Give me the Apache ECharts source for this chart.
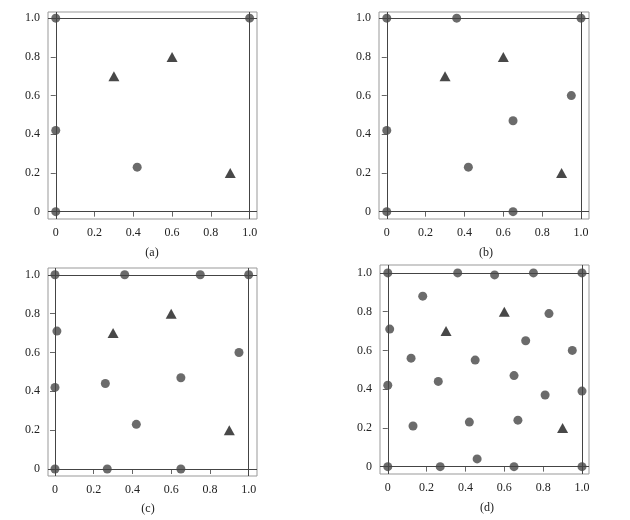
<!DOCTYPE html>
<html>
<head>
<meta charset="utf-8">
<script src="https://cdn.jsdelivr.net/npm/echarts@6/dist/echarts.min.js"></script>
<style>
    html, body { margin: 0; padding: 0; background: #fff; }
    #chart { width: 630px; height: 520px; }
</style>
</head>
<body>
<div id="chart"></div>
<script>
    // tick positions shared by all four panels
    var tickValues = [0, 0.2, 0.4, 0.6, 0.8, 1.0];
    var captions = ['(a)', '(b)', '(c)', '(d)'];

    // the three triangle points are the same in every panel
    var trianglePoints = [[0.3, 0.7], [0.6, 0.8], [0.9, 0.2]];

    var circlesA = [[0, 0], [0, 1], [1, 1], [0, 0.42], [0.42, 0.23]];
    var circlesB = [[0, 0], [0, 1], [0.36, 1], [1, 1], [0, 0.42], [0.42, 0.23],
        [0.65, 0.47], [0.95, 0.6], [0.65, 0]];
    var circlesC = [[0, 0], [0, 1], [0.36, 1], [0.75, 1], [1, 1], [0.01, 0.71],
        [0, 0.42], [0.26, 0.44], [0.42, 0.23], [0.65, 0.47], [0.95, 0.6],
        [0.27, 0], [0.65, 0]];
    var circlesD = [[0, 1], [0.36, 1], [0.55, 0.99], [0.75, 1], [1, 1],
        [0.18, 0.88], [0.83, 0.79], [0.01, 0.71], [0.71, 0.65], [0.95, 0.6],
        [0.12, 0.56], [0.45, 0.55], [0.65, 0.47], [0, 0.42], [0.26, 0.44],
        [0.81, 0.37], [1, 0.39], [0.13, 0.21], [0.42, 0.23], [0.67, 0.24],
        [0.46, 0.04], [0, 0], [0.27, 0], [0.65, 0], [1, 0]];
    var circleSets = [circlesA, circlesB, circlesC, circlesD];

    var grids = [
        {left: 48, top: 12, width: 209, height: 207},
        {left: 379, top: 12, width: 210, height: 207},
        {left: 48, top: 268, width: 209, height: 208},
        {left: 380, top: 265, width: 209, height: 209}
    ];
    var xRanges = [[-0.040, 1.038], [-0.040, 1.041], [-0.036, 1.043], [-0.040, 1.036]];
    var yRanges = [[-0.038, 1.032], [-0.038, 1.032], [-0.036, 1.035], [-0.038, 1.041]];
    var captionPos = [[152, 253], [486, 253], [148, 509], [487, 508]];

    var fontFamily = '"Liberation Serif", "Times New Roman", "DejaVu Serif", serif';

    function tickLabel(v) {
        return v === 0 ? '0' : v.toFixed(1);
    }

    function makeAxis(range) {
        return {
            type: 'value',
            min: range[0],
            max: range[1],
            axisLine: {show: false},
            splitLine: {show: false},
            axisTick: {
                show: true,
                length: 5,
                customValues: tickValues,
                lineStyle: {color: '#666'}
            },
            axisLabel: {
                customValues: tickValues,
                margin: 8,
                color: '#222',
                fontSize: 12,
                fontFamily: fontFamily,
                formatter: tickLabel
            }
        };
    }

    var chart = echarts.init(document.getElementById('chart'));

    var option = {
        animation: false,
        textStyle: {fontFamily: fontFamily},
        grid: grids.map(function (g) {
            return Object.assign({show: true, borderColor: '#999', borderWidth: 1, backgroundColor: 'transparent'}, g);
        }),
        xAxis: xRanges.map(function (r, i) {
            var ax = makeAxis(r);
            ax.gridIndex = i;
            ax.position = 'bottom';
            return ax;
        }),
        yAxis: yRanges.map(function (r, i) {
            var ax = makeAxis(r);
            ax.gridIndex = i;
            ax.position = 'left';
            return ax;
        }),
        graphic: captions.map(function (c, i) {
            return {
                type: 'text',
                x: captionPos[i][0],
                y: captionPos[i][1],
                style: {
                    text: c,
                    fill: '#222',
                    fontSize: 12,
                    fontFamily: fontFamily,
                    align: 'center',
                    verticalAlign: 'middle'
                }
            };
        }),
        series: []
    };

    for (var i = 0; i < 4; i++) {
        option.series.push({
            type: 'scatter',
            xAxisIndex: i,
            yAxisIndex: i,
            data: circleSets[i],
            symbol: 'circle',
            symbolSize: 9,
            itemStyle: {color: '#464646'},
            z: 3,
            markLine: {
                silent: true,
                symbol: 'none',
                label: {show: false},
                lineStyle: {color: '#444', width: 1, type: 'solid'},
                data: [{xAxis: 0}, {xAxis: 1}, {yAxis: 0}, {yAxis: 1}]
            }
        });
        option.series.push({
            type: 'scatter',
            xAxisIndex: i,
            yAxisIndex: i,
            data: trianglePoints,
            symbol: 'triangle',
            symbolSize: [11, 10],
            itemStyle: {color: '#1a1a1a'},
            z: 4
        });
    }

    chart.setOption(option);
    window.addEventListener('resize', chart.resize);
</script>
</body>
</html>
